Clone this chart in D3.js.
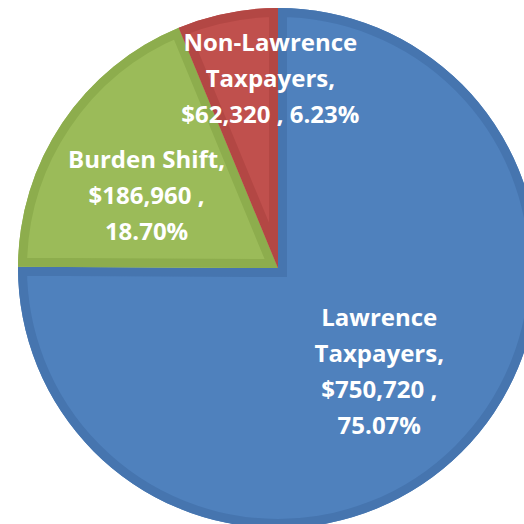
<!DOCTYPE html>
<html>
<head>
<meta charset="utf-8">
<script src="https://cdn.jsdelivr.net/npm/d3@7"></script>
<style>
  body { margin: 0; background: #fff; }
  text { font-family: "Open Sans", sans-serif; font-weight: bold; fill: #fff; }
</style>
</head>
<body>
<script>
(function (d3) {
  'use strict';

  // data
  const categories = ["Lawrence Taxpayers", "Burden Shift", "Non-Lawrence Taxpayers"];
  const amounts = [750720, 186960, 62320];
  const fills = ["#4F81BD", "#9BBB59", "#C0504D"];
  const edges = ["#4675AF", "#8DAD4D", "#B34744"];

  // label lines as Excel wraps them
  const labelLines = [
    ["Lawrence", "Taxpayers,", "$750,720 ,", "75.07%"],
    ["Burden Shift,", "$186,960 ,", "18.70%"],
    ["Non-Lawrence", "Taxpayers,", "$62,320 , 6.23%"]
  ];

  const w = 524, h = 524,
    cx = 278, cy = 268, radius = 260;

  // label placement: angle (deg clockwise from top) and distance from centre
  const labelAnchor = [
    {angle: 135.7, dist: 145},
    {angle: 298.8, dist: 150},
    {angle: 357.7, dist: 190}
  ];

  const data = categories.map((c, i) => ({name: c, value: amounts[i], i: i}));

  const svg = d3.select("body")
    .append("svg")
      .attr("width", w)
      .attr("height", h);

  const g = svg.append("g")
    .attr("transform", `translate(${cx},${cy})`);

  const pie = d3.pie()
    .sort(null)
    .value(d => d.value);

  const arc = d3.arc()
    .innerRadius(0)
    .outerRadius(radius);

  const arcs = pie(data);

  const defs = svg.append("defs");
  defs.selectAll("clipPath")
    .data(arcs)
    .join("clipPath")
      .attr("id", d => "clip" + d.data.i)
    .append("path")
      .attr("d", arc);

  // slices: fill, then a darker inner border clipped to the slice
  const slices = g.selectAll("g.slice")
    .data(arcs)
    .join("g")
      .attr("class", "slice");

  slices.append("path")
    .attr("d", arc)
    .attr("fill", d => fills[d.data.i]);

  slices.append("path")
    .attr("d", arc)
    .attr("fill", "none")
    .attr("stroke", d => edges[d.data.i])
    .attr("stroke-width", 18)
    .attr("stroke-linejoin", "miter")
    .attr("clip-path", d => `url(#clip${d.data.i})`);

  // labels
  const lineH = 36, fontSize = 24;
  const labels = g.selectAll("text.lbl")
    .data(arcs)
    .join("text")
      .attr("class", "lbl")
      .attr("font-size", fontSize)
      .attr("text-anchor", "middle")
      .attr("transform", d => {
        const a = labelAnchor[d.data.i];
        const t = a.angle * Math.PI / 180;
        return `translate(${Math.sin(t) * a.dist},${-Math.cos(t) * a.dist})`;
      });

  labels.selectAll("tspan")
    .data(d => labelLines[d.data.i].map((s, k, arr) => ({s: s, k: k, n: arr.length})))
    .join("tspan")
      .attr("x", 0)
      .attr("y", d => (d.k - (d.n - 1) / 2) * lineH + fontSize * 0.36)
      .text(d => d.s);

}(d3));
</script>
</body>
</html>
